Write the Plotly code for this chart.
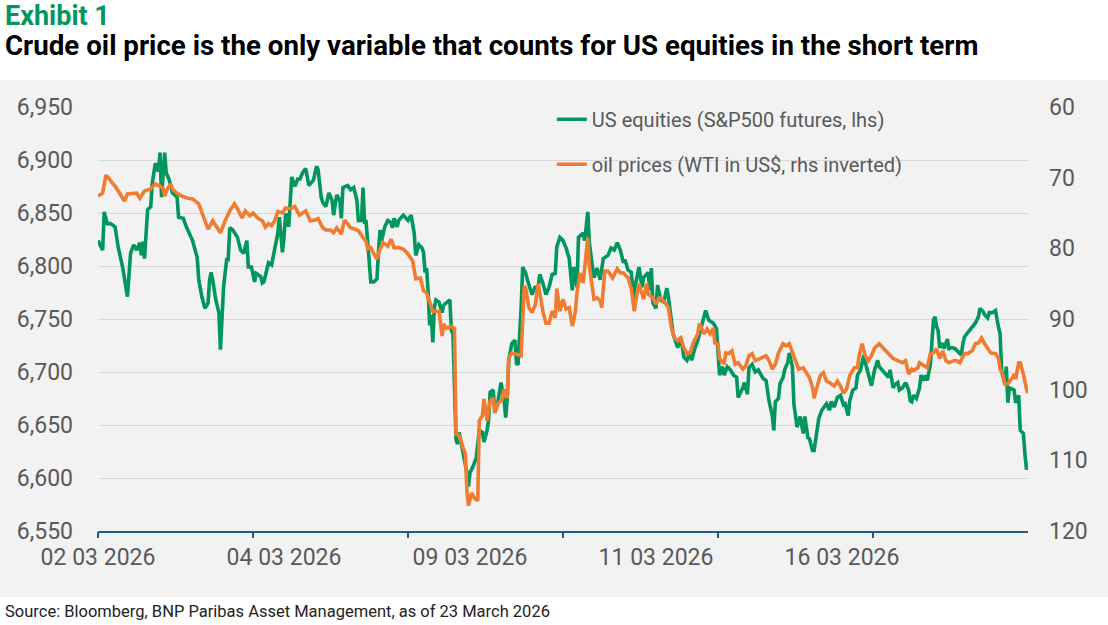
import plotly.graph_objects as go

# S&P500 futures (lhs), sampled along the intraday bar index
eq_x = [0, 3, 4, 6, 8, 11, 13, 16, 19, 21, 23, 25, 27, 28, 29, 30, 32, 34, 35, 36,
        37, 39, 40, 41, 43, 44, 46, 48, 51, 52, 55, 57, 59, 61, 64, 65, 67, 69, 71, 72,
        73, 74, 76, 78, 79, 80, 81, 83, 84, 85, 87, 90, 92, 94, 96, 97, 99, 101, 102, 105,
        106, 107, 109, 110, 112, 114, 116, 117, 119, 120, 121, 122, 123, 125, 127, 129, 130, 132, 134, 136,
        139, 141, 142, 144, 145, 147, 149, 151, 152, 154, 156, 157, 158, 161, 163, 165, 167, 168, 170, 171,
        172, 173, 174, 176, 178, 180, 181, 182, 183, 185, 187, 189, 190, 191, 193, 194, 197, 200, 202, 203,
        204, 205, 207, 209, 210, 211, 212, 213, 214, 215, 216, 217, 218, 220, 222, 223, 225, 227, 228, 229,
        231, 232, 233, 235, 236, 238, 239, 240, 242, 244, 246, 248, 249, 251, 252, 253, 255, 256, 258, 260,
        262, 263, 264, 265, 267, 269, 270, 271, 273, 274, 276, 277, 280, 282, 284, 285, 287, 289, 291, 293,
        295, 296, 298, 300, 302, 304, 306, 307, 309, 310, 313, 314, 316, 317, 319, 320, 322, 324, 326, 329,
        331, 333, 335, 337, 339, 340, 342, 344, 346, 347, 349, 351, 352, 355, 356, 357, 358, 360, 361, 363,
        365, 367, 368, 370, 371, 374, 376, 378, 380, 382, 383, 385, 387, 389, 391, 392, 394, 397, 399, 400,
        401, 403, 404, 406, 408, 410, 412, 413, 416, 417, 419, 420, 422, 424, 426, 429, 431, 433, 435, 436,
        437, 439, 440, 442, 443, 445, 446, 448, 449, 450, 451, 453, 455, 456, 458, 459, 461, 462, 464, 465,
        467, 468, 470, 472, 473, 475, 477, 479, 481, 482, 484, 485, 487, 489, 490, 492, 494, 495, 497, 499,
        501, 503, 504, 507, 510, 511, 513, 514, 516, 517, 519, 521, 523, 524, 525, 526, 528, 530, 531, 533,
        534, 535, 537, 539, 540, 541, 542, 543, 545, 546, 548, 549, 551, 553, 555, 557, 558, 559, 561, 564,
        566, 568, 569, 571, 572, 574, 575, 577, 579, 581, 582, 583, 585, 586, 587, 588, 590, 591, 592, 594,
        595, 597, 598, 599, 600]
eq_y = [6824, 6815, 6851, 6840, 6840, 6837, 6818, 6798, 6771, 6812, 6820, 6815, 6822, 6810, 6823, 6807, 6853, 6856, 6878, 6888,
        6897, 6889, 6907, 6865, 6907, 6888, 6881, 6869, 6865, 6846, 6845, 6837, 6831, 6824, 6808, 6787, 6771, 6760, 6765, 6787,
        6794, 6787, 6768, 6756, 6721, 6756, 6780, 6806, 6806, 6836, 6834, 6827, 6815, 6812, 6824, 6799, 6799, 6785, 6793, 6790,
        6784, 6785, 6798, 6803, 6801, 6815, 6831, 6846, 6813, 6827, 6848, 6848, 6837, 6884, 6875, 6883, 6881, 6888, 6892, 6876,
        6881, 6894, 6891, 6865, 6860, 6856, 6869, 6862, 6848, 6867, 6862, 6845, 6874, 6876, 6872, 6874, 6862, 6843, 6843, 6874,
        6840, 6841, 6818, 6785, 6785, 6788, 6815, 6834, 6824, 6837, 6843, 6841, 6836, 6845, 6837, 6843, 6848, 6843, 6848, 6840,
        6831, 6810, 6820, 6817, 6813, 6794, 6798, 6775, 6744, 6754, 6728, 6761, 6768, 6766, 6756, 6763, 6766, 6768, 6739, 6736,
        6636, 6632, 6643, 6629, 6622, 6605, 6592, 6605, 6611, 6619, 6645, 6643, 6634, 6645, 6655, 6681, 6683, 6662, 6672, 6690,
        6674, 6657, 6674, 6711, 6727, 6730, 6708, 6707, 6761, 6799, 6793, 6787, 6773, 6780, 6780, 6792, 6784, 6773, 6780, 6792,
        6793, 6818, 6827, 6824, 6817, 6807, 6777, 6799, 6780, 6827, 6831, 6824, 6851, 6822, 6799, 6789, 6798, 6787, 6807, 6810,
        6817, 6815, 6822, 6815, 6803, 6806, 6796, 6794, 6768, 6784, 6799, 6780, 6789, 6794, 6777, 6798, 6765, 6760, 6782, 6768,
        6766, 6779, 6771, 6747, 6736, 6723, 6733, 6714, 6711, 6719, 6711, 6722, 6730, 6741, 6751, 6758, 6749, 6746, 6741, 6723,
        6697, 6705, 6697, 6705, 6702, 6697, 6695, 6676, 6685, 6690, 6679, 6704, 6707, 6700, 6702, 6694, 6692, 6672, 6659, 6645,
        6672, 6675, 6689, 6695, 6702, 6709, 6718, 6705, 6669, 6659, 6648, 6658, 6642, 6658, 6638, 6637, 6626, 6626, 6648, 6656,
        6664, 6666, 6670, 6664, 6672, 6667, 6676, 6678, 6669, 6670, 6659, 6673, 6683, 6685, 6697, 6702, 6716, 6709, 6698, 6687,
        6702, 6711, 6705, 6700, 6695, 6702, 6685, 6688, 6690, 6683, 6685, 6690, 6683, 6673, 6672, 6678, 6675, 6685, 6697, 6692,
        6697, 6692, 6707, 6749, 6752, 6743, 6739, 6723, 6727, 6722, 6731, 6722, 6723, 6722, 6719, 6716, 6727, 6733, 6737, 6742,
        6746, 6752, 6760, 6757, 6754, 6751, 6756, 6756, 6758, 6742, 6736, 6701, 6689, 6705, 6671, 6685, 6683, 6683, 6671, 6678,
        6645, 6642, 6623, 6608, 6614]

# WTI crude in US$ (rhs, inverted)
oil_x = [0, 3, 5, 6, 9, 11, 14, 17, 19, 22, 25, 27, 30, 34, 37, 40, 42, 43, 45, 47,
         48, 51, 54, 58, 61, 65, 68, 71, 74, 76, 79, 82, 85, 88, 90, 93, 95, 98, 100, 103,
         106, 108, 110, 112, 114, 116, 119, 121, 124, 127, 130, 132, 134, 137, 140, 142, 145, 147, 150, 152,
         154, 157, 159, 161, 163, 166, 168, 171, 173, 174, 176, 178, 180, 182, 184, 187, 189, 191, 194, 197,
         200, 203, 205, 208, 210, 212, 214, 216, 220, 222, 223, 225, 228, 230, 231, 233, 235, 237, 238, 239,
         241, 243, 245, 246, 248, 249, 251, 253, 255, 256, 258, 261, 262, 264, 265, 267, 269, 273, 275, 276,
         278, 280, 282, 284, 287, 289, 291, 293, 295, 296, 298, 300, 302, 304, 306, 308, 309, 311, 313, 316,
         317, 320, 322, 324, 325, 326, 327, 329, 332, 335, 337, 339, 342, 344, 346, 347, 349, 352, 354, 355,
         358, 360, 362, 364, 366, 368, 370, 372, 374, 376, 378, 380, 382, 384, 387, 388, 391, 393, 395, 397,
         398, 400, 401, 404, 405, 407, 409, 411, 413, 416, 418, 420, 422, 424, 428, 431, 433, 435, 437, 439,
         442, 444, 446, 448, 450, 452, 455, 457, 459, 461, 462, 464, 466, 468, 470, 472, 475, 477, 479, 481,
         483, 485, 488, 490, 491, 493, 495, 497, 499, 501, 503, 504, 507, 510, 513, 516, 519, 521, 523, 525,
         526, 529, 530, 533, 535, 537, 539, 541, 543, 545, 547, 549, 552, 554, 556, 559, 561, 564, 566, 568,
         570, 572, 574, 576, 579, 581, 582, 584, 585, 587, 590, 591, 592, 594, 595, 597, 599, 600]
oil_y = [72.6, 72.2, 69.8, 69.8, 70.7, 71.2, 72.2, 73.3, 72.3, 72.2, 72.2, 72.9, 71.9, 71.6, 70.9, 71.2, 71.5, 72.6, 71.5, 70.9,
         71.6, 72.2, 72.6, 72.9, 73.0, 73.7, 75.4, 77.3, 76.1, 76.8, 77.8, 76.1, 74.7, 73.7, 74.4, 75.7, 74.7, 75.4, 75.0, 75.7,
         76.1, 77.0, 76.5, 76.8, 76.1, 74.8, 75.0, 74.3, 74.4, 74.1, 75.3, 75.0, 74.7, 76.1, 76.0, 75.8, 77.1, 77.4, 77.4, 77.8,
         77.1, 78.0, 76.0, 76.5, 77.1, 77.3, 77.5, 78.5, 79.0, 80.1, 79.9, 80.8, 81.5, 80.1, 79.2, 79.7, 78.7, 79.9, 79.9, 80.1,
         80.8, 81.8, 84.3, 84.2, 86.0, 86.3, 87.7, 88.9, 88.9, 92.4, 90.7, 91.3, 91.0, 91.4, 106.3, 106.5, 107.9, 109.1, 114.3, 116.4,
         114.6, 115.4, 115.7, 104.4, 103.7, 101.3, 104.4, 101.6, 101.2, 103.3, 102.0, 101.3, 99.9, 101.2, 95.5, 94.8, 94.9, 95.2, 85.3, 85.7,
         88.4, 89.1, 88.1, 85.0, 88.9, 90.6, 90.6, 88.9, 89.8, 85.7, 88.9, 87.2, 88.6, 88.4, 91.0, 88.9, 86.3, 83.5, 84.9, 78.5,
         82.5, 87.2, 87.0, 87.4, 88.4, 85.7, 83.2, 83.2, 84.2, 82.9, 83.5, 83.5, 84.2, 85.7, 88.9, 87.4, 85.0, 87.2, 85.0, 86.5,
         87.0, 87.9, 87.0, 87.2, 87.7, 88.4, 91.3, 92.7, 93.1, 92.7, 94.1, 94.9, 94.8, 93.4, 92.1, 90.6, 92.1, 91.4, 92.1, 91.3,
         93.4, 93.5, 95.6, 96.4, 94.8, 94.9, 94.5, 96.4, 96.2, 97.1, 96.6, 95.2, 94.9, 95.9, 95.5, 95.2, 95.9, 97.1, 96.4, 94.8,
         93.5, 93.8, 93.5, 94.9, 95.9, 97.1, 96.9, 97.6, 98.3, 99.7, 101.2, 99.5, 98.0, 97.6, 98.8, 99.0, 99.5, 98.8, 99.5, 100.5,
         99.9, 98.0, 96.9, 96.9, 95.2, 93.5, 95.2, 95.9, 95.2, 94.1, 93.8, 93.5, 94.2, 94.9, 95.6, 95.9, 96.2, 95.9, 97.8, 97.1,
         97.3, 96.9, 96.2, 96.6, 96.9, 94.9, 94.8, 94.2, 95.6, 94.5, 95.9, 96.2, 95.9, 95.9, 96.2, 94.9, 94.9, 94.5, 93.5, 93.4,
         92.7, 93.5, 94.2, 94.8, 94.9, 95.6, 97.1, 98.0, 99.2, 99.2, 98.3, 97.8, 98.5, 96.2, 96.2, 97.8, 99.9, 100.5]

date_labels = ["02 03 2026", "04 03 2026", "09 03 2026", "11 03 2026", "16 03 2026"]
label_pos = [0, 120, 240, 360, 480]
tick_pos = [0, 100, 200, 300, 400, 500]

GREEN = "#00965E"
ORANGE = "#F07C32"
BG = "#F2F2F2"
GRID = "#D9D9D9"
AXIS = "#1F5F86"
TXT = "#595959"

fig = go.Figure()
fig.add_trace(go.Scatter(
    x=eq_x, y=eq_y, mode="lines", name="US equities (S&P500 futures, lhs)",
    line=dict(color=GREEN, width=3.6), legendgroup="eq",
    xaxis="x", yaxis="y"
))
fig.add_trace(go.Scatter(
    x=oil_x, y=oil_y, mode="lines", name="oil prices (WTI in US$, rhs inverted)",
    line=dict(color=ORANGE, width=3.6), legendgroup="oil",
    xaxis="x2", yaxis="y2"
))

fig.update_layout(
    width=1108, height=625,
    margin=dict(l=98, r=80, t=107, b=94),
    paper_bgcolor="white",
    plot_bgcolor=BG,
    font=dict(family="Roboto", color=TXT),
    showlegend=True,
    xaxis=dict(
        range=[0, 600], tickmode="array", tickvals=label_pos, ticktext=date_labels,
        ticks="", showgrid=False, zeroline=False,
        showline=True, linecolor=AXIS, linewidth=1.5,
        tickfont=dict(size=23, color=TXT), ticklabelstandoff=5,
    ),
    # second x axis only carries the tick marks (different interval than labels)
    xaxis2=dict(
        overlaying="x", anchor="y2", side="bottom", range=[0, 600],
        tickmode="array", tickvals=tick_pos, ticks="outside", ticklen=6,
        tickwidth=1.5, tickcolor=AXIS, showticklabels=False,
        showgrid=False, zeroline=False, showline=False,
    ),
    yaxis=dict(
        range=[6550, 6950], dtick=50, tickformat=",", ticks="",
        gridcolor=GRID, gridwidth=1, zeroline=False, showline=False,
        tickfont=dict(size=23, color=TXT), ticklabelstandoff=24,
    ),
    yaxis2=dict(
        overlaying="y", side="right", range=[120, 60], dtick=10, ticks="",
        showgrid=False, zeroline=False, showline=False,
        tickfont=dict(size=23, color=TXT), ticklabelstandoff=20,
    ),
    legend=dict(
        x=0.488, y=1.017, xanchor="left", yanchor="top",
        bgcolor="rgba(0,0,0,0)", font=dict(size=20, color=TXT),
        tracegroupgap=16,
    ),
    shapes=[dict(
        type="rect", xref="paper", yref="paper",
        x0=-0.2, x1=1.2, y0=-0.1557, y1=1.0637,
        fillcolor=BG, line_width=0, layer="below",
    )],
    annotations=[
        dict(text="<b>Exhibit 1</b>", xref="paper", yref="paper",
             x=-0.102, y=1.2146, xanchor="left", yanchor="middle",
             showarrow=False, font=dict(size=27, color=GREEN, family="Roboto")),
        dict(text="<b>Crude oil price is the only variable that counts for US equities in the short term</b>",
             xref="paper", yref="paper", x=-0.102, y=1.1439,
             xanchor="left", yanchor="middle", showarrow=False,
             font=dict(size=27.7, color="#000000", family="Roboto")),
        dict(text="Source: Bloomberg, BNP Paribas Asset Management, as of 23 March 2026",
             xref="paper", yref="paper", x=-0.102, y=-0.191,
             xanchor="left", yanchor="middle", showarrow=False,
             font=dict(size=16.5, color="#222222", family="Roboto")),
    ],
)

# the page body adds an 8px margin by default; drop it so the figure sits at 0,0
fig.write_html("out.html", config={"displayModeBar": False},
               post_script="document.body.style.margin='0';")
